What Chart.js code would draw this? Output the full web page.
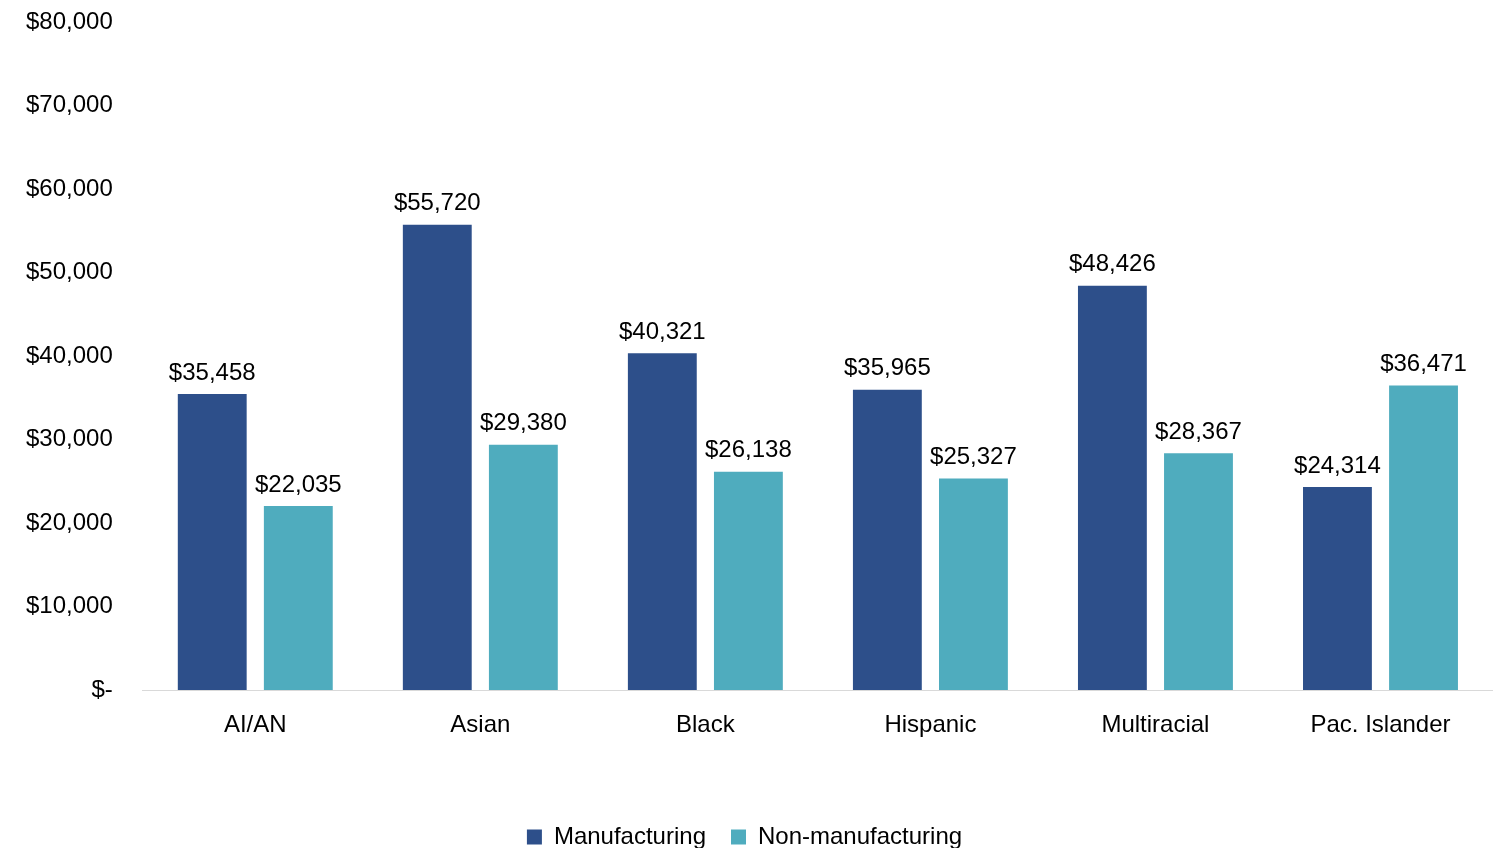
<!DOCTYPE html>
<html>
<head>
<meta charset="utf-8">
<script src="https://cdn.jsdelivr.net/npm/chart.js@4.4.1/dist/chart.umd.min.js"></script>
<style>
	html, body { margin: 0; padding: 0; background: #fff; }
	#wrap { width: 1493px; height: 848px; position: relative; }
</style>
</head>
<body>
<div id="wrap"><canvas id="chart-bar"></canvas></div>
<script>
// Chart data
const CATEGORIES = ["AI/AN", "Asian", "Black", "Hispanic", "Multiracial", "Pac. Islander"];
const MANUFACTURING = [35458, 55720, 40321, 35965, 48426, 24314];
const NON_MANUFACTURING = [22035, 29380, 26138, 25327, 28367, 36471];
const Y_TICKS = [0, 10000, 20000, 30000, 40000, 50000, 60000, 70000, 80000];

const FONT = "'Liberation Sans', Arial, sans-serif";
const money = (v) => (v === 0 ? "$-" : "$" + v.toLocaleString("en-US"));

// Value labels above each bar
const barLabels = {
	id: "barLabels",
	afterDatasetsDraw(chart) {
		const { ctx } = chart;
		ctx.save();
		ctx.font = `24px ${FONT}`;
		ctx.fillStyle = "#000";
		ctx.textAlign = "center";
		ctx.textBaseline = "bottom";
		chart.data.datasets.forEach((ds, i) => {
			chart.getDatasetMeta(i).data.forEach((bar, j) => {
				ctx.fillText(money(ds.data[j]), bar.x, bar.y - 9);
			});
		});
		ctx.restore();
	},
};

const DATA = {
	labels: CATEGORIES,
	datasets: [
		{
			label: "Manufacturing",
			data: MANUFACTURING,
			backgroundColor: "#2D4F8A",
			categoryPercentage: 0.765,
			barPercentage: 0.8,
		},
		{
			label: "Non-manufacturing",
			data: NON_MANUFACTURING,
			backgroundColor: "#4FACBE",
			categoryPercentage: 0.765,
			barPercentage: 0.8,
		},
	],
};

const CONFIG = {
	type: "bar",
	data: DATA,
	plugins: [barLabels],
	options: {
		responsive: true,
		maintainAspectRatio: false,
		animation: false,
		layout: {
			padding: { left: -4, right: 0, top: 22, bottom: -11 },
		},
		plugins: {
			legend: {
				position: "bottom",
				labels: {
					boxWidth: 15,
					boxHeight: 15,
					padding: 25,
					color: "#000",
					font: { family: FONT, size: 24 },
				},
			},
			tooltip: { enabled: false },
		},
		scales: {
			x: {
				border: { display: true, color: "#d9d9d9", width: 1 },
				grid: { display: false, drawTicks: false },
				ticks: {
					color: "#000",
					padding: 21,
					font: { family: FONT, size: 24 },
				},
				afterFit(scale) {
					scale.height = 110;
				},
			},
			y: {
				min: 0,
				max: 80000,
				border: { display: false },
				grid: { display: false, drawTicks: false },
				afterBuildTicks(scale) {
					scale.ticks = Y_TICKS.map((v) => ({ value: v }));
				},
				afterFit(scale) {
					scale.paddingTop = 12;
					scale.paddingBottom = 12;
				},
				ticks: {
					color: "#000",
					padding: 30,
					font: { family: FONT, size: 24 },
					callback: (v) => money(v),
				},
			},
		},
	},
};

// Init chart
new Chart(document.getElementById("chart-bar"), CONFIG);
</script>
</body>
</html>
